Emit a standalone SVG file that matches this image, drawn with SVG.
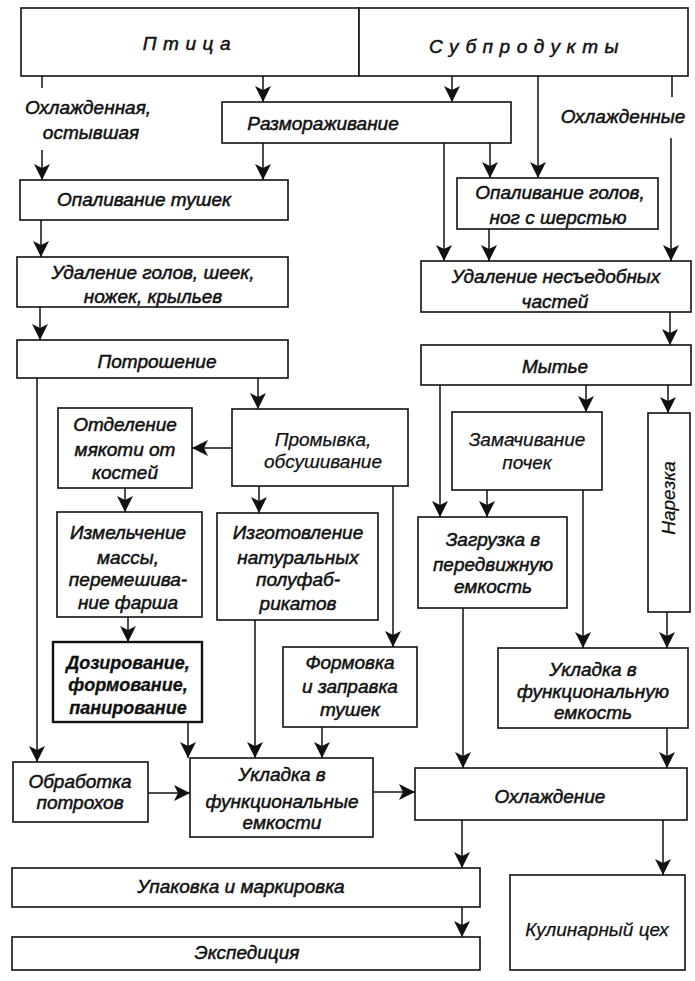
<svg xmlns="http://www.w3.org/2000/svg" width="695" height="981" viewBox="0 0 695 981">
  <style>
    .bg { fill: #ffffff; }
    .box { fill: #ffffff; stroke: #111111; stroke-width: 1.6; }
    .box-heavy { fill: #ffffff; stroke: #111111; stroke-width: 2.4; }
    .line { fill: none; stroke: #111111; stroke-width: 1.5; }
    text { font-family: "Liberation Sans", Arial, sans-serif; font-style: italic; font-size: 19px; fill: #111111; text-anchor: middle; stroke: #111111; stroke-width: 0.5; }
    .head { letter-spacing: 6.5px; }
    .bold { font-weight: bold; font-size: 18px; stroke-width: 0.3; }
    .light { stroke-width: 0.25; }
  </style>
  <defs>
    <marker id="arrow" viewBox="0 0 16 16" refX="16" refY="8" markerWidth="16" markerHeight="16" markerUnits="userSpaceOnUse" orient="auto">
      <path d="M0,0 L16,8 L0,16 L4,8 z" fill="#111111"/>
    </marker>
  </defs>

  <rect class="bg" x="0" y="0" width="695" height="981"/>

  <!-- connectors -->
  <g id="connectors">
    <path class="line" d="M263,76 V102" marker-end="url(#arrow)"/>
    <path class="line" d="M452,76 V102" marker-end="url(#arrow)"/>
    <path class="line" d="M42,76 V88"/>
    <path class="line" d="M42,150 V180" marker-end="url(#arrow)"/>
    <path class="line" d="M263,143 V180" marker-end="url(#arrow)"/>
    <path class="line" d="M490,143 V178" marker-end="url(#arrow)"/>
    <path class="line" d="M538,76 V178" marker-end="url(#arrow)"/>
    <path class="line" d="M444,143 V261" marker-end="url(#arrow)"/>
    <path class="line" d="M489,229 V261" marker-end="url(#arrow)"/>
    <path class="line" d="M672,76 V97"/>
    <path class="line" d="M671,138 V261" marker-end="url(#arrow)"/>
    <path class="line" d="M41,220 V257" marker-end="url(#arrow)"/>
    <path class="line" d="M40,307 V340" marker-end="url(#arrow)"/>
    <path class="line" d="M37,378 V762" marker-end="url(#arrow)"/>
    <path class="line" d="M258,378 V409" marker-end="url(#arrow)"/>
    <path class="line" d="M232,448 H192" marker-end="url(#arrow)"/>
    <path class="line" d="M125,488 V512" marker-end="url(#arrow)"/>
    <path class="line" d="M259,486 V513" marker-end="url(#arrow)"/>
    <path class="line" d="M393,486 V647" marker-end="url(#arrow)"/>
    <path class="line" d="M128,617 V642" marker-end="url(#arrow)"/>
    <path class="line" d="M188,722 V758" marker-end="url(#arrow)"/>
    <path class="line" d="M255,620 V758" marker-end="url(#arrow)"/>
    <path class="line" d="M322,727 V758" marker-end="url(#arrow)"/>
    <path class="line" d="M148,793 H190" marker-end="url(#arrow)"/>
    <path class="line" d="M373,792 H415" marker-end="url(#arrow)"/>
    <path class="line" d="M670,312 V345" marker-end="url(#arrow)"/>
    <path class="line" d="M440,385 V517" marker-end="url(#arrow)"/>
    <path class="line" d="M586,385 V412" marker-end="url(#arrow)"/>
    <path class="line" d="M668,385 V413" marker-end="url(#arrow)"/>
    <path class="line" d="M487,490 V517" marker-end="url(#arrow)"/>
    <path class="line" d="M583,490 V648" marker-end="url(#arrow)"/>
    <path class="line" d="M667,612 V648" marker-end="url(#arrow)"/>
    <path class="line" d="M463,608 V768" marker-end="url(#arrow)"/>
    <path class="line" d="M667,728 V768" marker-end="url(#arrow)"/>
    <path class="line" d="M462,820 V868" marker-end="url(#arrow)"/>
    <path class="line" d="M663,820 V875" marker-end="url(#arrow)"/>
    <path class="line" d="M462,907 V937" marker-end="url(#arrow)"/>
    <text x="88" y="114">Охлажденная,</text>
    <text x="91" y="139">остывшая</text>
    <text x="623" y="123">Охлажденные</text>
  </g>

  <!-- nodes -->
  <g id="ptitsa">
    <rect class="box" x="21" y="8" width="338" height="68"/>
    <text class="head" x="190" y="50">Птица</text>
  </g>
  <g id="subprodukty">
    <rect class="box" x="359" y="8" width="329" height="68"/>
    <text class="head" x="527" y="53">Субпродукты</text>
  </g>
  <g id="razmorazhivanie">
    <rect class="box" x="222" y="102" width="289" height="41"/>
    <text x="323" y="130">Размораживание</text>
  </g>
  <g id="opalivanie-tushek">
    <rect class="box" x="20" y="180" width="268" height="40"/>
    <text x="144" y="206">Опаливание тушек</text>
  </g>
  <g id="opalivanie-golov">
    <rect class="box" x="457" y="178" width="201" height="51"/>
    <text x="560" y="199">Опаливание голов,</text>
    <text x="558" y="224">ног с шерстью</text>
  </g>
  <g id="udalenie-golov">
    <rect class="box" x="17" y="257" width="271" height="50"/>
    <text x="153" y="279">Удаление голов, шеек,</text>
    <text x="153" y="303">ножек, крыльев</text>
  </g>
  <g id="potroshenie">
    <rect class="box" x="17" y="340" width="271" height="38"/>
    <text x="157" y="368">Потрошение</text>
  </g>
  <g id="udalenie-nesedobnyh">
    <rect class="box" x="421" y="261" width="270" height="51"/>
    <text x="556" y="283">Удаление несъедобных</text>
    <text x="555" y="308">частей</text>
  </g>
  <g id="mytye">
    <rect class="box" x="421" y="345" width="270" height="40"/>
    <text x="555" y="373">Мытье</text>
  </g>
  <g id="otdelenie">
    <rect class="box" x="58" y="408" width="134" height="80"/>
    <text x="125" y="431">Отделение</text>
    <text x="125" y="456">мякоти от</text>
    <text x="125" y="479">костей</text>
  </g>
  <g id="promyvka">
    <rect class="box" x="232" y="409" width="176" height="77"/>
    <text class="light" x="323" y="446">Промывка,</text>
    <text class="light" x="323" y="468">обсушивание</text>
  </g>
  <g id="zamachivanie">
    <rect class="box" x="452" y="412" width="150" height="78"/>
    <text class="light" x="527" y="446">Замачивание</text>
    <text class="light" x="527" y="469">почек</text>
  </g>
  <g id="narezka">
    <rect class="box" x="648" y="413" width="42" height="199"/>
    <text class="light" x="0" y="0" transform="translate(675,498) rotate(-90)">Нарезка</text>
  </g>
  <g id="izmelchenie">
    <rect class="box" x="57" y="512" width="145" height="105"/>
    <text x="128" y="539">Измельчение</text>
    <text x="128" y="564">массы,</text>
    <text x="128" y="586">перемешива-</text>
    <text x="128" y="609">ние фарша</text>
  </g>
  <g id="izgotovlenie">
    <rect class="box" x="217" y="513" width="161" height="107"/>
    <text x="298" y="539">Изготовление</text>
    <text x="298" y="564">натуральных</text>
    <text x="298" y="586">полуфаб-</text>
    <text x="298" y="610">рикатов</text>
  </g>
  <g id="zagruzka">
    <rect class="box" x="418" y="517" width="149" height="91"/>
    <text x="493" y="546">Загрузка в</text>
    <text x="493" y="571">передвижную</text>
    <text x="493" y="593">емкость</text>
  </g>
  <g id="dozirovanie">
    <rect class="box-heavy" x="53" y="642" width="149" height="80"/>
    <text class="bold" x="128" y="669">Дозирование,</text>
    <text class="bold" x="128" y="691">формование,</text>
    <text class="bold" x="128" y="714">панирование</text>
  </g>
  <g id="formovka">
    <rect class="box" x="283" y="647" width="134" height="80"/>
    <text x="350" y="669">Формовка</text>
    <text x="350" y="693">и заправка</text>
    <text x="350" y="716">тушек</text>
  </g>
  <g id="ukladka-emkost">
    <rect class="box" x="498" y="648" width="190" height="80"/>
    <text x="593" y="676">Укладка в</text>
    <text x="593" y="698">функциональную</text>
    <text x="593" y="719">емкость</text>
  </g>
  <g id="obrabotka">
    <rect class="box" x="13" y="762" width="135" height="60"/>
    <text x="80" y="788">Обработка</text>
    <text x="80" y="809">потрохов</text>
  </g>
  <g id="ukladka-emkosti">
    <rect class="box" x="190" y="758" width="183" height="79"/>
    <text x="282" y="781">Укладка в</text>
    <text x="282" y="808">функциональные</text>
    <text x="282" y="829">емкости</text>
  </g>
  <g id="ohlazhdenie">
    <rect class="box" x="415" y="768" width="272" height="52"/>
    <text x="550" y="803">Охлаждение</text>
  </g>
  <g id="upakovka">
    <rect class="box" x="12" y="868" width="468" height="39"/>
    <text x="241" y="893">Упаковка и маркировка</text>
  </g>
  <g id="ekspeditsiya">
    <rect class="box" x="12" y="937" width="468" height="33"/>
    <text x="247" y="959">Экспедиция</text>
  </g>
  <g id="kulinarnyi-tseh">
    <rect class="box" x="510" y="875" width="175" height="95"/>
    <text class="light" x="597" y="936">Кулинарный цех</text>
  </g>
</svg>
